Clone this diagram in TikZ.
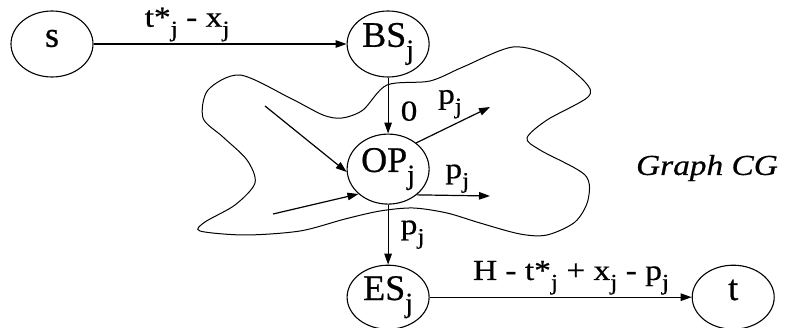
\documentclass[tikz,border=0pt]{standalone}
\usepackage{fontspec}
\usepackage{graphicx}
\setmainfont{Liberation Serif}
\newfontfamily\statefont[FakeBold=0.6]{Liberation Serif}
\newfontfamily\lblfont[FakeStretch=1.15, FakeBold=0.6]{Liberation Serif}
\usetikzlibrary{shapes.geometric, arrows.meta, positioning}
\newcommand{\sbj}[1]{\raisebox{-0.34em}{\scalebox{0.78}{#1}}}
\tikzstyle{state} = [ellipse, draw, line width=1.1pt, minimum width=82pt, minimum height=66pt, inner sep=0pt, font=\statefont\fontsize{36}{38}\selectfont, text height=0.68em, text depth=0.12em]
\tikzstyle{flow} = [line width=1.2pt, -{Triangle[length=11pt,width=7.5pt]}]
\tikzstyle{lbl} = [inner sep=2pt, font=\lblfont\fontsize{29}{31}\selectfont]

\begin{document}
\begin{tikzpicture}[x=1pt, y=-1pt]
  \useasboundingbox (0,0) rectangle (794,328);
  % region of the graph CG
  \draw[line width=1pt] plot[smooth cycle] coordinates {
    (240,75) (290,98) (323,115) (342,118) (363,110) (387,85) (430,81)
    (463,67) (513,47) (553,57) (585,82) (588,97) (547,120) (527,138)
    (540,150) (585,175) (588,200) (575,222) (547,235) (520,234) (480,223)
    (447,213) (413,208) (380,211) (345,219) (300,231) (245,235) (200,231)
    (205,222) (235,205) (255,183) (247,160) (223,137) (203,118) (208,90)};
  \node[state] (s) at (52,44) {s};
  \node[state, right=253pt of s] (bs) {BS\sbj{j}};
  \node[state, below=56pt of bs, minimum height=70pt] (op) {OP\sbj{j}};
  \node[state, below=60pt of op, minimum height=64pt] (es) {ES\sbj{j}};
  \node[state, right=262pt of es, minimum height=64pt] (t) {t};
  \node[lbl, font=\lblfont\itshape\fontsize{29}{31}\selectfont] (cg) at (707,168) {Graph CG};
  % loose ends of arcs inside CG
  \coordinate (in1) at (265,106);
  \coordinate (in2) at (273,214);
  \coordinate (out1) at (490,107);
  \coordinate (out2) at (490,196);
  \draw[flow] (s) -- node[lbl, above, pos=0.37] {t*\sbj{j} - x\sbj{j}} (bs);
  \draw[flow] (bs) -- node[lbl, right=10pt, pos=0.6] {0} (op);
  \draw[flow] (op) -- node[lbl, right=10pt, pos=0.5] {p\sbj{j}} (es);
  \draw[flow] (es) -- node[lbl, above, pos=0.54] {H - t*\sbj{j} + x\sbj{j} - p\sbj{j}} (t);
  \draw[flow] (in1) -- (op.184);
  \draw[flow] (in2) -- (op.220);
  \draw[flow] (op.43) -- node[lbl, above, yshift=4pt, xshift=-3pt] {p\sbj{j}} (out1);
  \draw[flow] (op.-42) -- node[lbl, above, xshift=4pt] {p\sbj{j}} (out2);
\end{tikzpicture}
\end{document}
